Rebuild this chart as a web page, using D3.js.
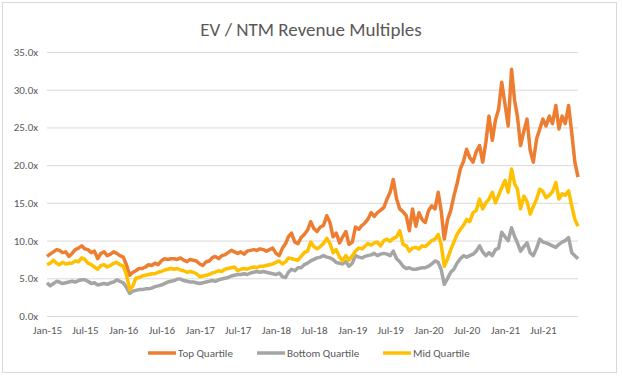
<!DOCTYPE html>
<html>
<head>
<meta charset="utf-8">
<script src="https://cdn.jsdelivr.net/npm/d3@7"></script>
<style>
  body { margin: 0; background: #fff; }
  text { font-family: Carlito, Calibri, Lato, sans-serif; fill: #595959; }
</style>
</head>
<body>
<div id="chart"></div>
<script>
// semi-monthly readings (1st and 16th of each month), Jan-15 .. Dec-21
var topQuartile = [
  7.9, 8.2, 8.5, 8.8, 8.7, 8.4, 8.5, 7.9, 8.3, 8.8, 9.0, 9.3, 8.9, 8.8, 8.4, 8.6, 7.6, 8.3, 8.5, 8.0, 8.2, 8.5, 8.3, 8.0,
  7.8, 6.8, 5.4, 5.8, 6.0, 6.3, 6.3, 6.5, 6.8, 6.7, 7.0, 6.8, 7.3, 7.6, 7.5, 7.6, 7.6, 7.5, 7.7, 7.4, 7.2, 7.5, 7.4, 7.3,
  6.9, 6.7, 7.2, 7.3, 7.7, 7.9, 7.6, 8.0, 8.1, 8.4, 8.7, 8.5, 8.3, 8.5, 8.2, 8.6, 8.7, 8.8, 8.7, 8.9, 8.8, 8.6, 8.8, 9.0,
  8.3, 8.0, 9.0, 9.6, 10.5, 11.0, 9.8, 9.6, 10.4, 10.8, 11.4, 12.5, 11.6, 11.2, 11.8, 12.0, 13.3, 12.4, 10.5, 11.0, 9.7, 10.5, 11.2, 9.5,
  9.8, 11.8, 11.5, 12.0, 12.3, 12.8, 13.7, 13.2, 13.7, 14.0, 14.4, 15.5, 16.4, 18.1, 15.5, 14.2, 13.8, 13.3, 11.3, 14.2, 11.9, 13.7, 12.8, 12.4,
  14.0, 14.6, 14.2, 16.4, 14.0, 10.2, 12.8, 14.0, 15.9, 17.5, 19.5, 20.5, 22.1, 21.0, 20.4, 21.8, 22.6, 20.4, 23.0, 26.5, 23.3, 26.0, 27.4, 31.0,
  28.0, 25.2, 32.7, 28.5, 26.5, 22.6, 24.5, 26.1, 22.0, 20.4, 23.5, 24.8, 26.1, 25.2, 26.5, 25.5, 27.9, 24.8, 26.5, 25.5, 27.9, 24.3, 20.4, 18.4
];
var bottomQuartile = [
  4.4, 4.0, 4.3, 4.6, 4.5, 4.3, 4.4, 4.5, 4.6, 4.5, 4.7, 4.8, 4.8, 4.6, 4.3, 4.4, 4.1, 4.2, 4.3, 4.2, 4.4, 4.5, 4.8, 4.6,
  4.4, 3.8, 3.0, 3.3, 3.4, 3.5, 3.5, 3.6, 3.6, 3.7, 3.9, 4.0, 4.1, 4.3, 4.5, 4.6, 4.7, 4.9, 4.9, 4.7, 4.6, 4.5, 4.5, 4.4,
  4.3, 4.4, 4.5, 4.6, 4.7, 4.6, 4.8, 4.9, 5.0, 5.1, 5.3, 5.4, 5.5, 5.5, 5.6, 5.5, 5.7, 5.8, 5.9, 5.8, 5.9, 5.8, 5.7, 5.6,
  5.5, 5.7, 5.2, 5.1, 5.8, 6.2, 6.0, 6.4, 6.4, 6.8, 7.0, 7.3, 7.5, 7.7, 7.8, 8.0, 7.8, 7.7, 7.5, 7.1, 7.0, 6.9, 7.2, 6.6,
  7.0, 8.0, 7.8, 7.7, 7.9, 8.0, 8.1, 8.3, 8.0, 8.2, 8.3, 8.2, 8.0, 8.6, 7.6, 7.2, 6.6, 6.3, 6.4, 6.2, 6.2, 6.3, 6.4, 6.4,
  6.6, 6.9, 7.3, 7.1, 6.2, 4.2, 5.0, 5.8, 6.2, 7.0, 7.6, 8.0, 7.8, 8.0, 8.2, 8.6, 9.3, 8.5, 8.0, 8.4, 8.0, 8.8, 9.0, 11.1,
  10.5, 10.0, 11.7, 10.5, 9.7, 8.6, 9.2, 9.7, 8.4, 8.0, 9.0, 10.2, 9.8, 9.7, 9.5, 9.3, 9.1, 9.5, 9.8, 10.0, 10.4, 8.4, 8.0, 7.6
];
var midQuartile = [
  6.8, 7.0, 7.4, 7.0, 6.8, 7.1, 6.9, 7.0, 7.0, 7.3, 7.2, 7.7, 7.5, 7.0, 6.8, 6.5, 6.2, 6.7, 6.8, 6.5, 6.7, 7.0, 7.1, 6.8,
  6.6, 5.5, 3.5, 4.0, 5.0, 5.1, 5.3, 5.4, 5.5, 5.6, 5.6, 5.8, 5.9, 6.1, 6.2, 6.3, 6.2, 6.3, 6.1, 6.0, 5.8, 5.9, 5.8, 5.6,
  5.2, 5.3, 5.4, 5.5, 5.7, 5.8, 6.0, 5.9, 6.2, 6.3, 6.4, 6.5, 6.0, 6.2, 6.3, 6.2, 6.4, 6.5, 6.4, 6.6, 6.6, 6.7, 6.8, 6.9,
  7.1, 7.3, 6.9, 7.2, 7.7, 7.6, 7.5, 7.4, 7.9, 8.4, 8.6, 9.8, 9.2, 8.9, 9.2, 9.6, 10.3, 9.6, 8.4, 8.8, 7.8, 7.3, 8.0, 7.4,
  8.0, 8.6, 9.0, 8.9, 9.2, 9.6, 9.4, 9.7, 9.8, 9.3, 10.0, 10.2, 9.9, 10.3, 10.5, 11.3, 9.5, 9.3, 8.6, 9.0, 9.1, 8.9, 9.3, 9.2,
  9.6, 10.0, 10.2, 10.8, 9.5, 6.6, 7.6, 8.8, 9.8, 10.8, 11.5, 12.0, 12.8, 12.5, 13.7, 14.0, 15.5, 14.2, 15.0, 15.5, 16.4, 15.0, 16.0, 17.0,
  18.0, 16.4, 19.5, 17.5, 16.8, 14.2, 15.9, 15.2, 13.5, 14.5, 15.5, 16.8, 16.5, 15.7, 16.0, 16.5, 17.7, 15.5, 16.2, 16.0, 16.6, 14.6, 12.8, 11.9
];
var yTicks = [0, 5, 10, 15, 20, 25, 30, 35];
var seriesNames = ["Top Quartile", "Bottom Quartile", "Mid Quartile"];
var seriesColors = ["#ED7D31", "#A5A5A5", "#FFC000"];

var dates = topQuartile.map(function(d, i) {
    return new Date(2015, Math.floor(i / 2), i % 2 ? 16 : 1);
});

var w = 623, h = 379;
var margin = { left: 47, right: 45, top: 52, bottom: 63 };

var svg = d3.select("#chart")
    .append("svg")
    .attr("width", w)
    .attr("height", h);

svg.append("rect")
    .attr("x", 2.5).attr("y", 2.5)
    .attr("width", 614).attr("height", 370)
    .attr("fill", "#fff")
    .attr("stroke", "#d9d9d9");

svg.append("text")
    .attr("x", 311).attr("y", 36)
    .attr("text-anchor", "middle")
    .attr("font-size", "19px")
    .text("EV / NTM Revenue Multiples");

var x = d3.scaleTime()
    .domain([dates[0], dates[dates.length - 1]])
    .range([margin.left, w - margin.right]);

var y = d3.scaleLinear()
    .domain([0, 35])
    .range([h - margin.bottom, margin.top]);

// gridlines + y labels
var yAxis = svg.append("g")
    .attr("transform", "translate(" + margin.left + ",0)")
    .call(d3.axisLeft(y)
        .tickValues(yTicks)
        .tickSize(-(w - margin.left - margin.right))
        .tickPadding(9)
        .tickFormat(function(d) { return d.toFixed(1) + "x"; }));
yAxis.select(".domain").remove();
yAxis.selectAll("line").attr("stroke", "#d9d9d9");
yAxis.selectAll("text").attr("font-size", "11px").attr("fill", "#595959");

var xTicks = [];
for (var yr = 2015; yr <= 2021; yr++) {
    xTicks.push(new Date(yr, 0, 1), new Date(yr, 6, 1));
}
var xAxis = svg.append("g")
    .attr("transform", "translate(0," + (h - margin.bottom) + ")")
    .call(d3.axisBottom(x)
        .tickValues(xTicks)
        .tickSize(0)
        .tickPadding(10)
        .tickFormat(d3.timeFormat("%b-%y")));
xAxis.select(".domain").remove();
xAxis.selectAll("text").attr("font-size", "11px").attr("fill", "#595959");

var line = d3.line()
    .x(function(d, i) { return x(dates[i]); })
    .y(function(d) { return y(d); });

var allSeries = [topQuartile, bottomQuartile, midQuartile];

svg.selectAll("path.series")
    .data(allSeries)
    .enter()
    .append("path")
    .attr("class", "series")
    .attr("d", line)
    .attr("fill", "none")
    .attr("stroke", function(d, i) { return seriesColors[i]; })
    .attr("stroke-width", 3.5)
    .attr("stroke-linejoin", "round");

// legend
var legendX = [148, 257, 383];
var legend = svg.selectAll("g.legend")
    .data(seriesNames)
    .enter()
    .append("g")
    .attr("class", "legend")
    .attr("transform", function(d, i) { return "translate(" + legendX[i] + ",353)"; });

legend.append("line")
    .attr("x1", 0).attr("x2", 28)
    .attr("stroke", function(d, i) { return seriesColors[i]; })
    .attr("stroke-width", 3.5);

legend.append("text")
    .attr("x", 30).attr("y", 4)
    .attr("font-size", "11px")
    .text(function(d) { return d; });
</script>
</body>
</html>
